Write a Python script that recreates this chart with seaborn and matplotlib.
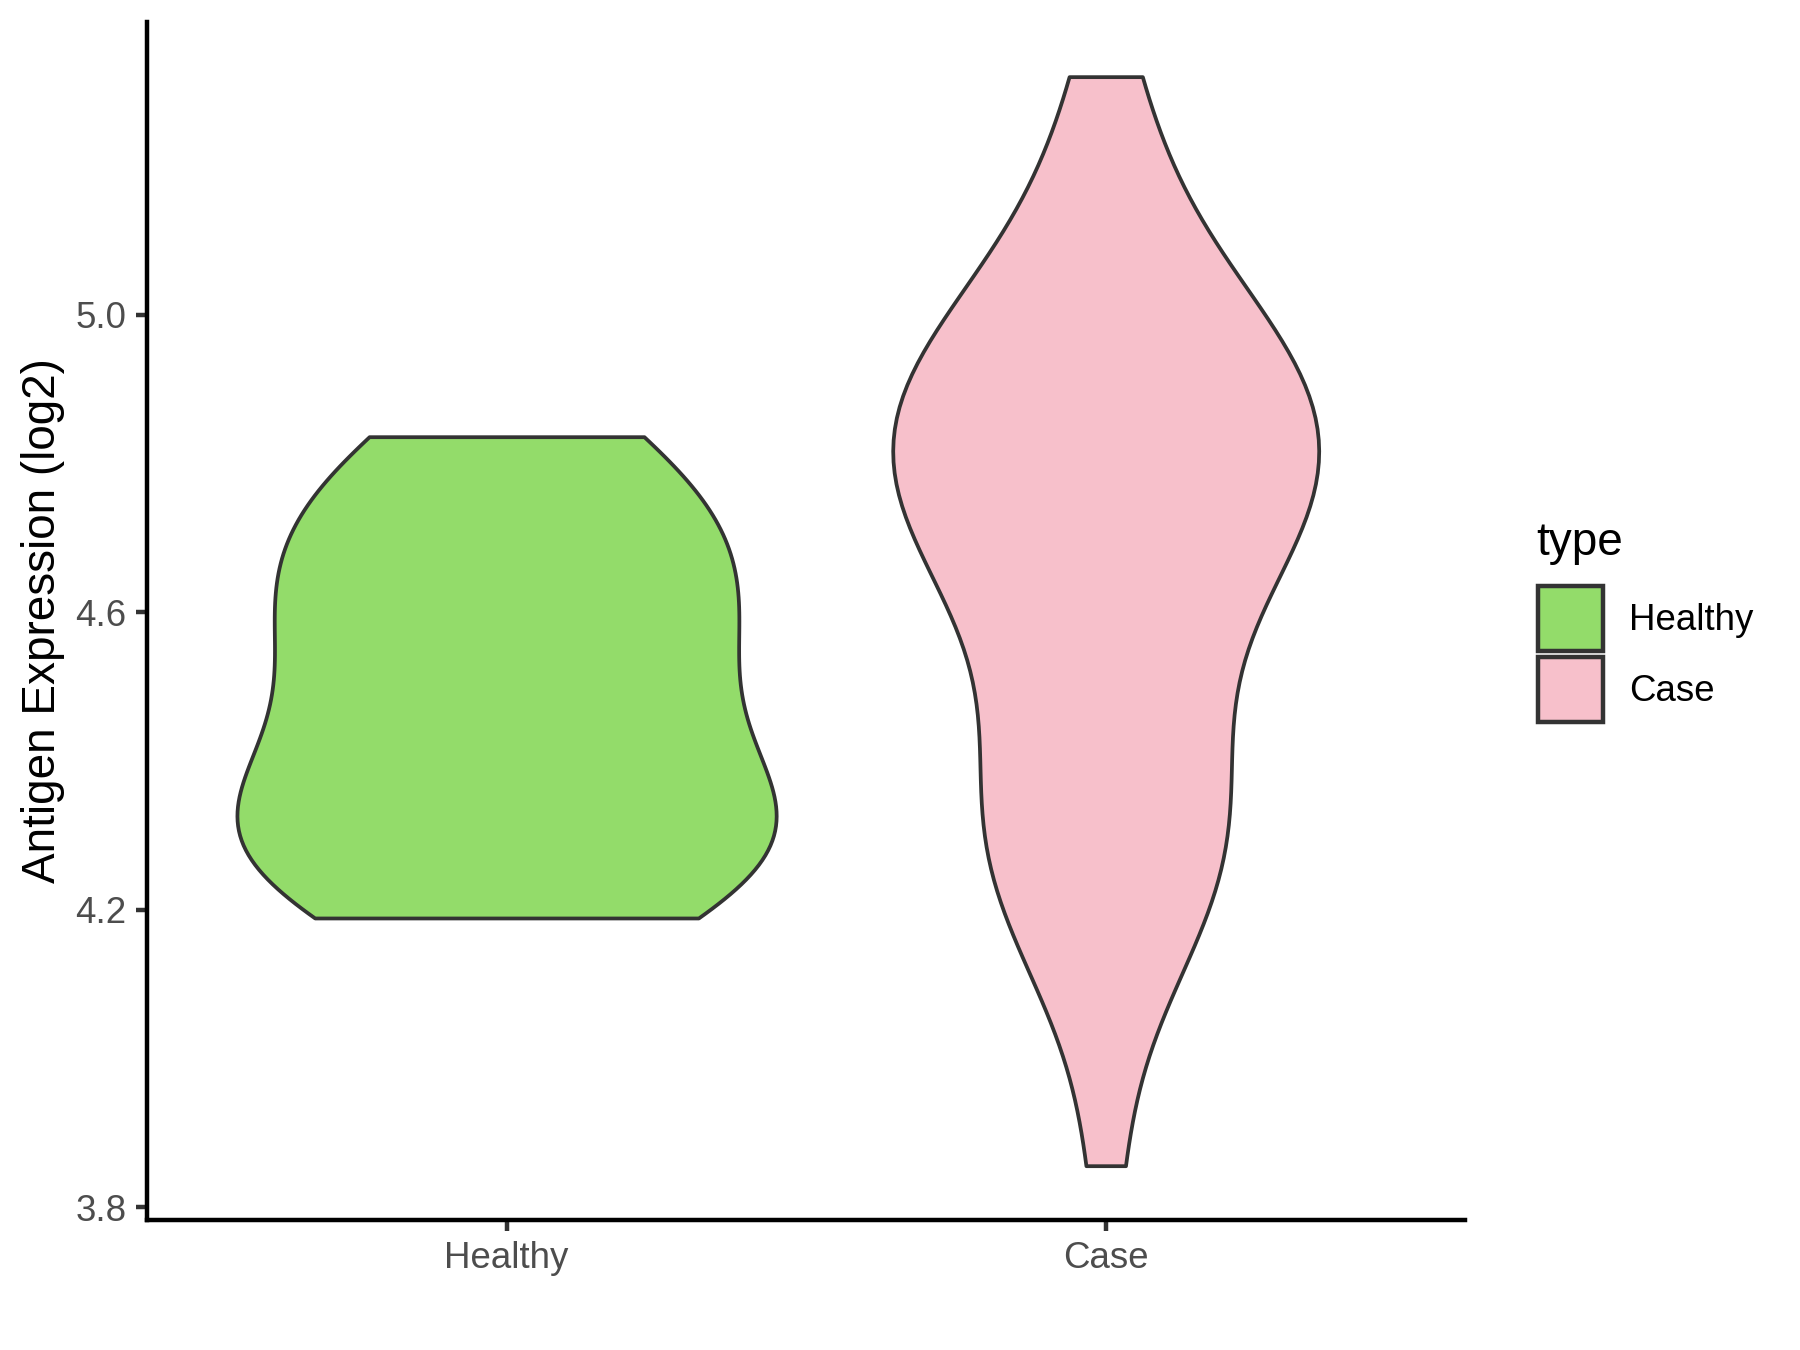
import numpy as np
import pandas as pd
import matplotlib
matplotlib.use("Agg")
import matplotlib.pyplot as plt
from matplotlib.patches import Patch
import seaborn as sns

# ---- data ----
categories = ["Healthy", "Case"]
healthy_values = [4.189, 4.22, 4.28, 4.31, 4.34, 4.39, 4.48, 4.54, 4.60, 4.65,
                  4.71, 4.77, 4.836]
case_values = [3.856, 4.089, 4.145, 4.185, 4.221, 4.254, 4.285, 4.317, 4.345, 4.374,
               4.402, 4.432, 4.495, 4.552, 4.600, 4.628, 4.655, 4.680, 4.701, 4.720,
               4.738, 4.755, 4.772, 4.790, 4.808, 4.826, 4.844, 4.861, 4.880, 4.899,
               4.918, 4.936, 4.955, 4.975, 5.000, 5.028, 5.060, 5.150, 5.225, 5.320]
palette_colors = ["#93DC6A", "#F7C0CB"]
y_ticks = [3.8, 4.2, 4.6, 5.0]
legend_title = "type"

df = pd.DataFrame({
    "type": ["Healthy"] * len(healthy_values) + ["Case"] * len(case_values),
    "value": healthy_values + case_values,
})
df["type"] = pd.Categorical(df["type"], categories=categories, ordered=True)


def nrd0(kde):
    # R's bw.nrd0 expressed as a scipy bandwidth factor
    x = np.asarray(kde.dataset).ravel()
    sd = x.std(ddof=1)
    q75, q25 = np.percentile(x, [75, 25])
    lo = min(sd, (q75 - q25) / 1.34)
    h = 0.9 * lo * len(x) ** (-0.2)
    return h / sd


sns.set_theme(style="ticks")
plt.rcParams["font.family"] = ["Liberation Sans", "DejaVu Sans"]

fig = plt.figure(figsize=(6, 4.5), dpi=300)
ax = fig.add_axes([0.0817, 0.0963, 0.7323, 0.8877])

line_c = "#333333"
sns.violinplot(
    data=df, x="type", y="value", hue="type", order=categories, hue_order=categories,
    palette=dict(zip(categories, palette_colors)), cut=0, inner=None,
    density_norm="area", common_norm=True, bw_method=nrd0, width=0.9,
    linewidth=0.9, linecolor=line_c, legend=False, ax=ax, saturation=1,
)

ax.set_xlim(-0.6, 1.6)
ax.set_ylim(3.783, 5.394)
ax.set_yticks(y_ticks)
ax.set_yticklabels([f"{t:.1f}" for t in y_ticks])
ax.set_xlabel("")
ax.set_ylabel("Antigen Expression (log2)", fontsize=11, color="black", labelpad=2.5)

for s in ["top", "right"]:
    ax.spines[s].set_visible(False)
for s in ["left", "bottom"]:
    ax.spines[s].set_color("black")
    ax.spines[s].set_linewidth(1.07)
ax.tick_params(axis="both", colors=line_c, width=1.07, length=2.75,
               labelsize=8.8, labelcolor="#4D4D4D", pad=2.2)
ax.grid(False)

handles = [Patch(facecolor=c, edgecolor=line_c, linewidth=1.07, label=l)
           for c, l in zip(palette_colors, categories)]
leg = fig.legend(handles=handles, loc="center left",
                 bbox_to_anchor=(0.8546, 0.5156), frameon=False, fontsize=8.8,
                 handlelength=1.77, handleheight=2.35,
                 handletextpad=0.7, labelspacing=0.16, borderpad=0,
                 borderaxespad=0)
for t in leg.get_texts():
    t.set_color("black")
fig.text(0.8535, 0.589, legend_title, fontsize=11, color="black",
         ha="left", va="baseline")

fig.savefig("out.png", dpi=300, facecolor="white")
